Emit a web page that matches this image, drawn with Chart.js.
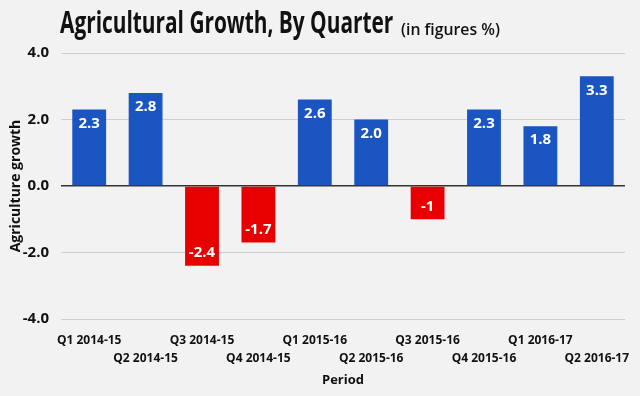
<!DOCTYPE html>
<html>
<head>
<meta charset="utf-8">
<script src="https://cdn.jsdelivr.net/npm/chart.js@4"></script>
<style>
  body { margin: 0; background: #f2f2f2; }
  #wrap { position: relative; width: 640px; height: 396px; background: #f2f2f2; }
  .ttl { position: absolute; white-space: nowrap; font-family: 'Open Sans', sans-serif; color: #111;
         transform-origin: left top; line-height: 1; }
  #mainTitle { left: 60px; top: 7px; font-size: 30px; font-weight: 700; transform: scaleX(0.695); }
  #subTitle { left: 401px; top: 20px; font-size: 17px; font-weight: 600; transform: scaleX(0.93); }
</style>
</head>
<body>
<div id="wrap">
  <span class="ttl" id="mainTitle">Agricultural Growth, By Quarter</span>
  <span class="ttl" id="subTitle">(in figures %)</span>
  <canvas id="growthChart" width="640" height="396"></canvas>
</div>
<script>
const quarters = ['Q1 2014-15', 'Q2 2014-15', 'Q3 2014-15', 'Q4 2014-15', 'Q1 2015-16',
                  'Q2 2015-16', 'Q3 2015-16', 'Q4 2015-16', 'Q1 2016-17', 'Q2 2016-17'];
const growth = [2.3, 2.8, -2.4, -1.7, 2.6, 2.0, -1, 2.3, 1.8, 3.3];
const growthText = ['2.3', '2.8', '-2.4', '-1.7', '2.6', '2.0', '-1', '2.3', '1.8', '3.3'];
const yTicks = [-4, -2, 0, 2, 4];

const FONT = "'Open Sans', sans-serif";

// white value labels inside the end of each bar
const barLabels = {
    id: 'barLabels',
    afterDatasetsDraw(chart) {
        const ctx = chart.ctx;
        const meta = chart.getDatasetMeta(0);
        ctx.save();
        ctx.fillStyle = '#fff';
        ctx.font = `bold 15px ${FONT}`;
        ctx.textAlign = 'center';
        ctx.textBaseline = 'middle';
        meta.data.forEach((bar, i) => {
            const y = growth[i] >= 0 ? bar.y + 14 : bar.y - 13;
            ctx.fillText(growthText[i], bar.x, y);
        });
        ctx.restore();
    }
};

const ctx = document.getElementById('growthChart').getContext('2d');
new Chart(ctx, {
    type: 'bar',
    data: {
        labels: quarters,
        datasets: [{
            label: 'Agriculture growth',
            data: growth,
            backgroundColor: c => growth[c.dataIndex] >= 0 ? '#1a55c2' : '#e80000',
            barPercentage: 0.6,
            categoryPercentage: 1.0
        }]
    },
    options: {
        responsive: false,
        animation: false,
        layout: { padding: { top: 53, right: 15, left: 4, bottom: 4 } },
        plugins: { legend: { display: false }, tooltip: { enabled: false } },
        scales: {
            x: {
                grid: { display: false },
                border: { display: false },
                ticks: {
                    autoSkip: false, maxRotation: 0, minRotation: 0, padding: 5,
                    color: '#111',
                    font: { family: FONT, size: 12, weight: 'bold', lineHeight: 1.5 },
                    callback: (v, i) => i % 2 ? ['', quarters[i]] : quarters[i]
                },
                title: { display: true, text: 'Period', color: '#111', padding: { top: 4, bottom: 4 },
                         font: { family: FONT, size: 13, weight: 'bold' } },
                afterFit: s => { s.height = 73; }
            },
            y: {
                min: -4, max: 4,
                afterBuildTicks: s => { s.ticks = yTicks.map(v => ({ value: v })); },
                border: { display: false },
                grid: {
                    drawTicks: false,
                    color: c => c.tick.value === 0 ? '#333' : '#cfcfcf',
                    lineWidth: c => c.tick.value === 0 ? 1.5 : 1
                },
                ticks: {
                    padding: 12, color: '#111',
                    font: { family: FONT, size: 15, weight: 'bold' },
                    callback: v => v.toFixed(1)
                },
                title: { display: true, text: 'Agriculture growth', color: '#111', padding: { left: 3, right: 0 },
                         font: { family: FONT, size: 14, weight: 'bold' } },
                afterFit: s => { s.width = 57; }
            }
        }
    },
    plugins: [barLabels]
});
</script>
</body>
</html>
